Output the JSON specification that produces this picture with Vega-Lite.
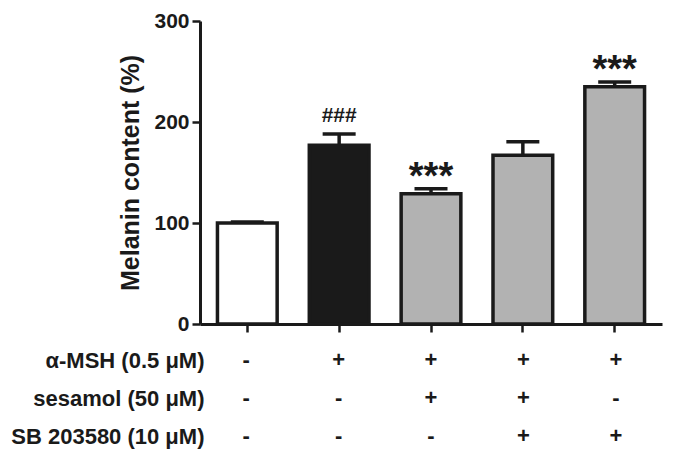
{
  "$schema": "https://vega.github.io/schema/vega-lite/v6.json",
  "background": "white",
  "padding": {"left": 10, "top": 10, "right": 12, "bottom": 0},
  "config": {
    "view": {"stroke": null},
    "font": "Liberation Sans",
    "axis": {"labelFont": "Liberation Sans", "titleFont": "Liberation Sans"}
  },
  "datasets": {
    "bars": [
      {"group": "g1", "mean": 100, "err": 101, "kind": "control", "label": ""},
      {"group": "g2", "mean": 177, "err": 188, "kind": "msh", "label": "###"},
      {"group": "g3", "mean": 129, "err": 134, "kind": "treat", "label": "***"},
      {"group": "g4", "mean": 167, "err": 180.5, "kind": "treat", "label": ""},
      {"group": "g5", "mean": 235, "err": 239.5, "kind": "treat", "label": "***"}
    ],
    "table": [
      {"row": "α-MSH (0.5 μM)", "group": "g1", "sign": "-"},
      {"row": "α-MSH (0.5 μM)", "group": "g2", "sign": "+"},
      {"row": "α-MSH (0.5 μM)", "group": "g3", "sign": "+"},
      {"row": "α-MSH (0.5 μM)", "group": "g4", "sign": "+"},
      {"row": "α-MSH (0.5 μM)", "group": "g5", "sign": "+"},
      {"row": "sesamol (50 μM)", "group": "g1", "sign": "-"},
      {"row": "sesamol (50 μM)", "group": "g2", "sign": "-"},
      {"row": "sesamol (50 μM)", "group": "g3", "sign": "+"},
      {"row": "sesamol (50 μM)", "group": "g4", "sign": "+"},
      {"row": "sesamol (50 μM)", "group": "g5", "sign": "-"},
      {"row": "SB 203580 (10 μM)", "group": "g1", "sign": "-"},
      {"row": "SB 203580 (10 μM)", "group": "g2", "sign": "-"},
      {"row": "SB 203580 (10 μM)", "group": "g3", "sign": "-"},
      {"row": "SB 203580 (10 μM)", "group": "g4", "sign": "+"},
      {"row": "SB 203580 (10 μM)", "group": "g5", "sign": "+"}
    ]
  },
  "vconcat": [
    {
      "width": 462,
      "height": 303,
      "data": {"name": "bars"},
      "encoding": {
        "x": {
          "field": "group", "type": "nominal", "sort": ["g1","g2","g3","g4","g5"],
          "scale": {"paddingInner": 0.35, "paddingOuter": 0.19},
          "axis": {"labels": false, "title": null, "domainColor": "#1a1a1a", "domainWidth": 3, "tickColor": "#1a1a1a", "tickWidth": 2.5, "tickSize": 8}
        }
      },
      "layer": [
        {
          "mark": {"type": "rule", "stroke": "#1a1a1a", "strokeWidth": 3.5},
          "encoding": {
            "y": {"field": "mean", "type": "quantitative"},
            "y2": {"field": "err"}
          }
        },
        {
          "mark": {"type": "tick", "orient": "horizontal", "color": "#1a1a1a", "size": 33, "thickness": 3.5, "opacity": 1},
          "encoding": {
            "y": {"field": "err", "type": "quantitative"}
          }
        },
        {
          "mark": {"type": "bar", "stroke": "#1a1a1a", "strokeWidth": 3.5},
          "encoding": {
            "y": {
              "field": "mean", "type": "quantitative",
              "scale": {"domain": [0, 300], "nice": false},
              "axis": {
                "values": [0, 100, 200, 300], "grid": false,
                "title": "Melanin content (%)", "titleFontSize": 25, "titleFontWeight": "bold", "titleColor": "#1a1a1a", "titlePadding": 10,
                "labelFontSize": 21, "labelFontWeight": "bold", "labelColor": "#1a1a1a", "labelPadding": 3,
                "domainColor": "#1a1a1a", "domainWidth": 3, "tickColor": "#1a1a1a", "tickWidth": 2.5, "tickSize": 8
              }
            },
            "fill": {
              "field": "kind", "type": "nominal",
              "scale": {"domain": ["control", "msh", "treat"], "range": ["#ffffff", "#1a1a1a", "#b2b2b2"]},
              "legend": null
            }
          }
        },
        {
          "transform": [{"filter": "datum.label === '###'"}],
          "mark": {"type": "text", "fontSize": 21, "fontWeight": "bold", "color": "#1a1a1a", "baseline": "alphabetic", "dy": -12},
          "encoding": {
            "y": {"field": "err", "type": "quantitative"},
            "text": {"field": "label"}
          }
        },
        {
          "transform": [{"filter": "datum.label === '***'"}],
          "mark": {"type": "text", "fontSize": 38, "fontWeight": "bold", "color": "#1a1a1a", "baseline": "alphabetic", "dy": 0},
          "encoding": {
            "y": {"field": "err", "type": "quantitative"},
            "text": {"field": "label"}
          }
        }
      ]
    },
    {
      "width": 462,
      "height": 114,
      "data": {"name": "table"},
      "mark": {"type": "text", "fontSize": 22, "fontWeight": "bold", "color": "#1a1a1a"},
      "encoding": {
        "x": {
          "field": "group", "type": "nominal", "sort": ["g1","g2","g3","g4","g5"],
          "scale": {"paddingInner": 0.35, "paddingOuter": 0.19},
          "axis": null
        },
        "y": {
          "field": "row", "type": "nominal",
          "sort": ["α-MSH (0.5 μM)", "sesamol (50 μM)", "SB 203580 (10 μM)"],
          "scale": {"paddingInner": 0, "paddingOuter": 0},
          "axis": {"title": null, "domain": false, "ticks": false, "labelPadding": -4, "labelLimit": 400, "labelFontSize": 22, "labelFontWeight": "bold", "labelColor": "#1a1a1a"}
        },
        "text": {"field": "sign"}
      }
    }
  ],
  "spacing": 7
}
